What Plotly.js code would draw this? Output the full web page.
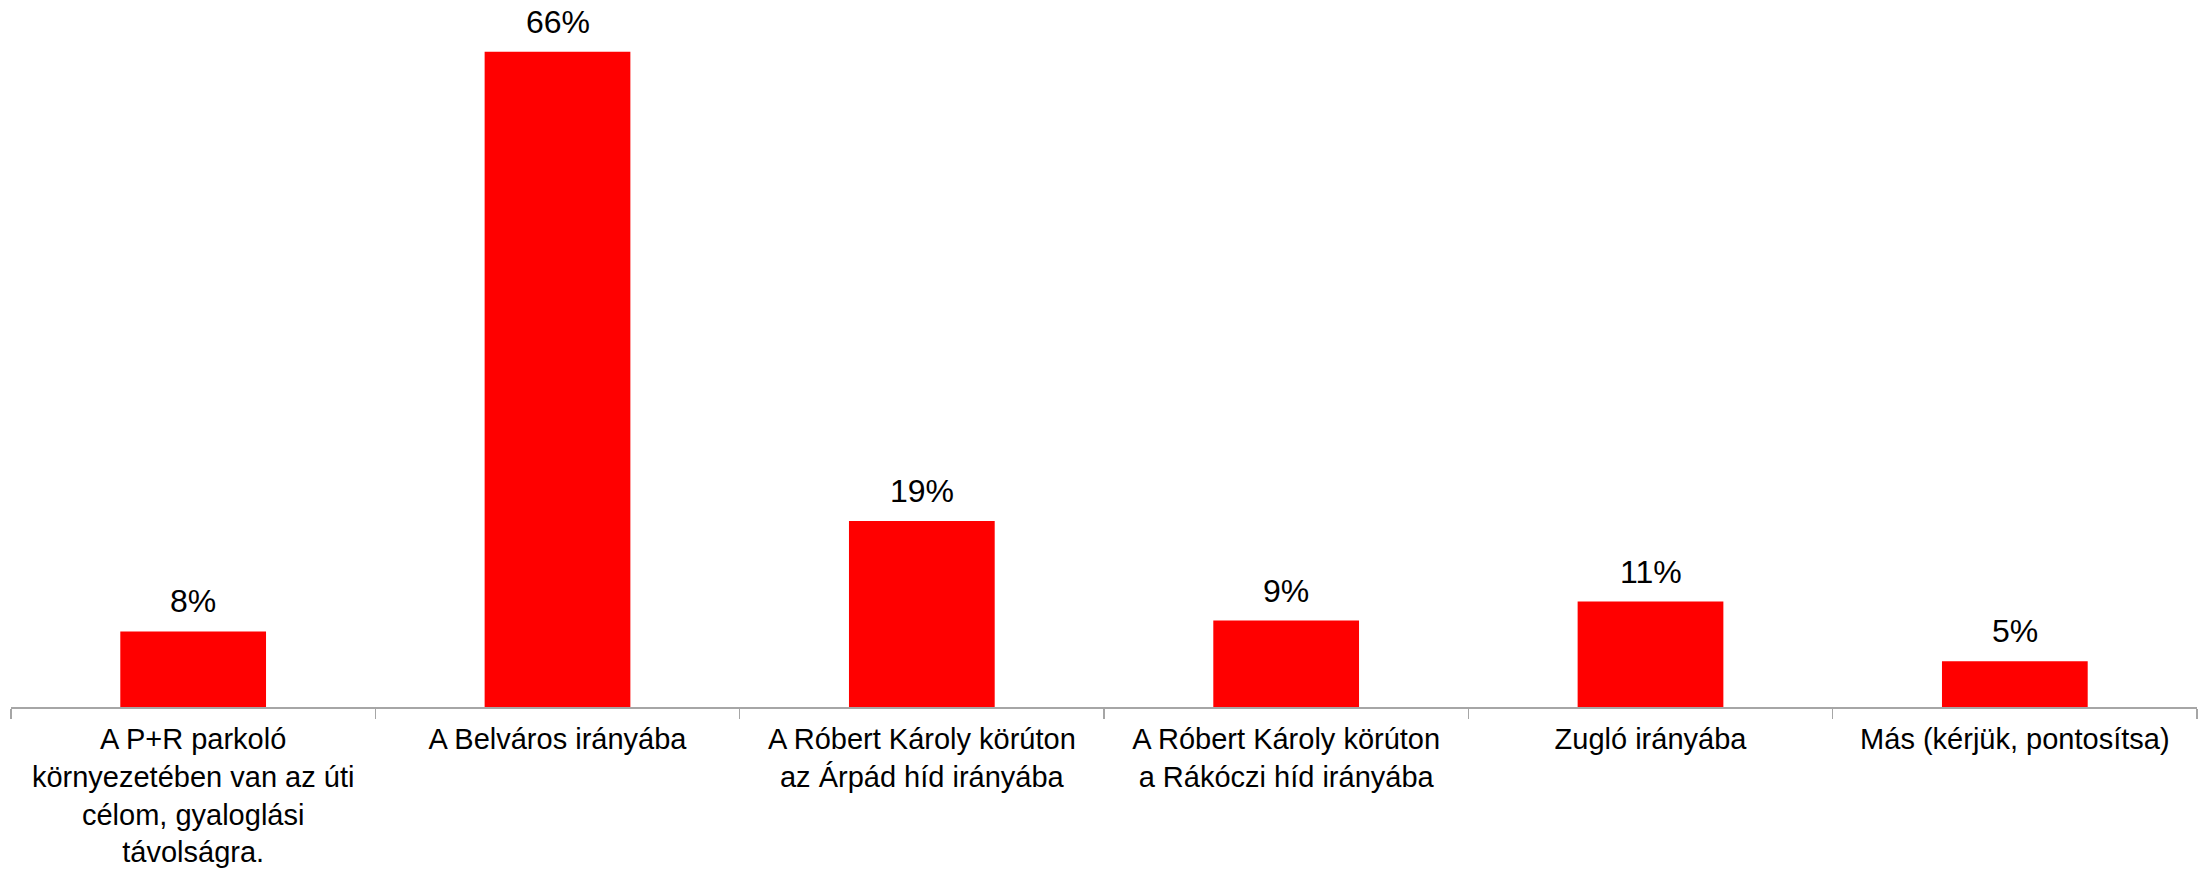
<!DOCTYPE html>
<html>
<head>
<meta charset="utf-8">
<script src="https://cdn.plot.ly/plotly-3.0.1.min.js"></script>
<style>html,body{margin:0;padding:0;background:#fff;}#chart{width:2208px;height:872px;}</style>
</head>
<body>
<div id="chart"></div>
<script>
const categories = [
  "A P+R parkoló<br>környezetében van az úti<br>célom, gyaloglási<br>távolságra.",
  "A Belváros irányába",
  "A Róbert Károly körúton<br>az Árpád híd irányába",
  "A Róbert Károly körúton<br>a Rákóczi híd irányába",
  "Zugló irányába",
  "Más (kérjük, pontosítsa)"
];
const values = [7.6, 65.9, 18.7, 8.7, 10.6, 4.6];
const valueLabels = ["8%", "66%", "19%", "9%", "11%", "5%"];

const FONT = "Liberation Sans, Arial, sans-serif";

const trace = {
  type: "bar",
  x: categories,
  y: values,
  marker: {color: "#ff0000", line: {width: 0}},
  hoverinfo: "none"
};

const annotations = categories.map((c, i) => ({
  x: c, y: values[i], xref: "x", yref: "y",
  text: valueLabels[i], showarrow: false,
  yanchor: "bottom", xanchor: "center", yshift: 10,
  font: {family: FONT, size: 32, color: "#000"}
}));

const layout = {
  width: 2208, height: 872,
  margin: {l: 11, r: 11, t: 11, b: 165, pad: 0},
  paper_bgcolor: "#fff", plot_bgcolor: "#fff",
  showlegend: false,
  bargap: 0.6,
  font: {family: FONT, color: "#000"},
  xaxis: {
    type: "category",
    showline: true, linecolor: "#a6a6a6", linewidth: 1.5,
    ticks: "outside", tickson: "boundaries", ticklen: 10, tickcolor: "#a6a6a6", tickwidth: 1.5,
    ticklabelstandoff: 6,
    tickfont: {family: FONT, size: 29, color: "#000"},
    showgrid: false, zeroline: false, automargin: false, fixedrange: true
  },
  yaxis: {
    range: [0, 70], visible: false, showgrid: false, zeroline: false, fixedrange: true
  },
  annotations: annotations
};

Plotly.newPlot("chart", [trace], layout, {displayModeBar: false, staticPlot: true});
</script>
</body>
</html>
